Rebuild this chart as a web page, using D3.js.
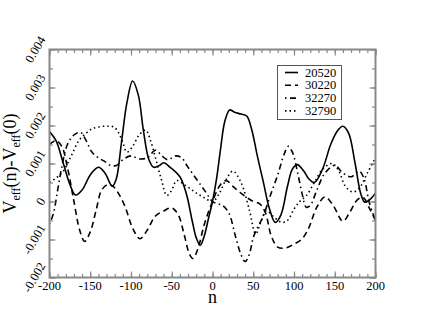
<!DOCTYPE html>
<html lang="en">
<head>
<meta charset="UTF-8">
<title>Veff</title>
<script src="https://d3js.org/d3.v7.min.js"></script>
<style>
  body { margin: 0; background: #fff; }
  svg { font-family: "Liberation Serif", "Times New Roman", serif; }
  .curve { fill: none; stroke: #000; stroke-width: 1.6px; }
  .frame { fill: none; stroke: #888; stroke-width: 2px; }
  .tick line { stroke: #888; stroke-width: 1.2px; }
  .domain { display: none; }
</style>
</head>
<body>
<script>
// values (V in units of 1, n = site index)
const series = ["20520", "30220", "32270", "32790"];

const n20520 = [-200,-192,-183,-175,-168,-160,-150,-140,-132,-123,-118,-112,-105,-98,-91,-85,-78,-72,-65,-60,-52,-40,-32,-25,-20,-15,-10,-5,0,5,10,15,21,27,35,42,48,55,62,70,77,84,92,98,104,112,118,125,135,145,153,160,167,175,182,187,193,200];
const v20520 = [0.00184,0.0016,0.001,0.00045,0.00017,0.0003,0.0007,0.0009,0.00075,0.0004,0.0006,0.0015,0.0026,0.00317,0.0028,0.0019,0.0011,0.0009,0.00095,0.00102,0.0009,0.00065,0.0002,-0.0005,-0.00095,-0.00115,-0.0009,-0.00045,0,0.0006,0.0014,0.0021,0.00241,0.00235,0.0023,0.00225,0.0019,0.0012,0.00055,-0.0002,-0.00055,-0.00035,0.0004,0.00085,0.00097,0.0008,0.0006,0.0005,0.00085,0.0015,0.00185,0.00198,0.0018,0.001,0.0002,-0.00002,0.00005,0.00022];

const n30220 = [-200,-192,-185,-178,-170,-163,-157,-150,-143,-136,-128,-122,-115,-107,-98,-89,-80,-70,-60,-50,-42,-35,-28,-24,-18,-10,0,10,17,25,36,50,58,65,72,80,90,100,110,118,128,138,148,160,168,178,185,193,200];
const v30220 = [0.0015,0.0016,0.00145,0.0009,0,-0.00075,-0.00105,-0.0008,-0.00025,0.0003,0.00045,0.0004,0.0002,-0.00015,-0.0007,-0.00098,-0.00075,-0.00038,-0.00025,-0.00017,-0.00035,-0.00085,-0.0014,-0.0015,-0.00125,-0.0006,0,0.00045,0.00055,0.0004,0.0002,0,-0.00006,-0.0003,-0.0009,-0.0012,-0.00122,-0.00112,-0.00098,-0.0007,-0.00015,0.00012,-0.0001,-0.00052,-0.0003,0.00005,0.0001,-0.0002,-0.0005];

const n32270 = [-200,-195,-190,-185,-178,-170,-162,-155,-148,-140,-132,-125,-118,-110,-100,-90,-80,-70,-62,-55,-45,-38,-30,-20,-10,0,5,12,20,28,35,40,45,50,55,62,70,80,88,93,98,105,110,115,120,128,138,150,160,170,180,186,192,200];
const v32270 = [-0.0006,-0.0003,0.0003,0.0009,0.0015,0.00175,0.00182,0.0016,0.0013,0.00115,0.00105,0.00095,0.00095,0.0011,0.0012,0.00112,0.00115,0.00135,0.0012,0.0011,0.0012,0.00115,0.0009,0.0006,0.0003,0,-0.00005,-0.0001,-0.0003,-0.0009,-0.0014,-0.00158,-0.0014,-0.00095,-0.0007,-0.0004,0.0001,0.0007,0.00125,0.00145,0.0013,0.0007,0.0002,-0.00015,-0.0001,0.0003,0.00075,0.00095,0.00075,0.00065,0.0008,0.0006,0,-0.0005];

const n32790 = [-200,-192,-184,-174,-164,-155,-148,-138,-128,-121,-115,-110,-105,-98,-90,-82,-76,-70,-63,-56,-50,-44,-35,-25,-18,-10,0,8,16,25,35,45,53,60,66,75,85,92,100,107,115,125,135,147,155,163,172,180,190,200];
const v32790 = [0.0005,0.00062,0.00077,0.00117,0.0016,0.0018,0.00191,0.00197,0.00198,0.00196,0.0018,0.00155,0.0013,0.00145,0.00175,0.00188,0.0016,0.00115,0.0006,0.00016,0.0003,0.00055,0.00045,0.0003,0.0002,0.0001,0,0.0002,0.00055,0.0008,0.0005,-0.0002,-0.00085,-0.0005,-0.00025,-0.0004,-0.00055,-0.0005,-0.0002,0,0.00015,0.0005,0.00085,0.001,0.0008,0.0004,0.00025,0.00035,0.00075,0.00115];

const xTicks = [-200, -150, -100, -50, 0, 50, 100, 150, 200];
const yTicks = [-0.002, -0.001, 0, 0.001, 0.002, 0.003, 0.004];
const yTickLabels = ["-0.002", "-0.001", "0", "0.001", "0.002", "0.003", "0.004"];

const W = 423, H = 327;
const pL = 49.5, pR = 375.5, pT = 49.5, pB = 277.5;

const x = d3.scaleLinear().domain([-200, 200]).range([pL, pR]);
const y = d3.scaleLinear().domain([-0.002, 0.004]).range([pB, pT]);

const svg = d3.select("body").append("svg")
  .attr("width", W).attr("height", H);

// curves
const styles = {
  "20520": null,
  "30220": "6,4",
  "32270": "1.5,3.5,6,3.5",
  "32790": "1.5,3"
};
const data = {
  "20520": d3.zip(n20520, v20520),
  "30220": d3.zip(n30220, v30220),
  "32270": d3.zip(n32270, v32270),
  "32790": d3.zip(n32790, v32790)
};
const line = d3.line()
  .x(d => x(d[0]))
  .y(d => y(d[1]))
  .curve(d3.curveCatmullRom.alpha(0.5));

svg.append("defs").append("clipPath").attr("id", "clip")
  .append("rect").attr("x", pL).attr("y", pT)
  .attr("width", pR - pL).attr("height", pB - pT);

svg.append("g").attr("clip-path", "url(#clip)")
  .selectAll("path").data(series).join("path")
  .attr("class", "curve")
  .attr("stroke-dasharray", s => styles[s])
  .attr("d", s => line(data[s]));

// ticks, inward on all sides
const minorX = d3.range(-200, 201, 10);
const minorY = d3.range(-0.002, 0.00401, 0.0005);

function tickAxis(axisFn, scale, vals, size, transform) {
  svg.append("g").attr("transform", transform)
    .call(axisFn(scale).tickValues(vals).tickSize(size).tickFormat(""));
}
tickAxis(d3.axisBottom, x, minorX, -3.5, `translate(0,${pB})`);
tickAxis(d3.axisBottom, x, xTicks, -6, `translate(0,${pB})`);
tickAxis(d3.axisTop, x, minorX, -3.5, `translate(0,${pT})`);
tickAxis(d3.axisTop, x, xTicks, -6, `translate(0,${pT})`);
tickAxis(d3.axisLeft, y, minorY, -3.5, `translate(${pL},0)`);
tickAxis(d3.axisLeft, y, yTicks, -6, `translate(${pL},0)`);
tickAxis(d3.axisRight, y, minorY, -3.5, `translate(${pR},0)`);
tickAxis(d3.axisRight, y, yTicks, -6, `translate(${pR},0)`);

svg.append("rect").attr("class", "frame")
  .attr("x", pL).attr("y", pT)
  .attr("width", pR - pL).attr("height", pB - pT);

// x tick labels
svg.append("g").selectAll("text").data(xTicks).join("text")
  .attr("x", d => x(d))
  .attr("y", pB + 12.5)
  .attr("text-anchor", "middle")
  .attr("font-size", 12.5)
  .text(d => String(d));

// y tick labels, slanted
const ang = 60 * Math.PI / 180;
svg.append("g").selectAll("text").data(yTicks).join("text")
  .attr("font-size", 12.5)
  .attr("text-anchor", "middle")
  .attr("dominant-baseline", "central")
  .text((d, i) => yTickLabels[i])
  .each(function (d) {
    const L = this.getComputedTextLength();
    const bw = L * Math.cos(ang) + 7 * Math.sin(ang);
    d3.select(this).attr("transform",
      `translate(${45.5 - bw / 2},${y(d)}) rotate(-60)`);
  });

// axis titles
svg.append("text")
  .attr("x", x(0)).attr("y", 303)
  .attr("text-anchor", "middle")
  .attr("font-size", 18)
  .text("n");

const yt = svg.append("text")
  .attr("transform", `translate(16,${(pT + pB) / 2}) rotate(-90)`)
  .attr("text-anchor", "middle")
  .attr("font-size", 18);
yt.append("tspan").text("V");
yt.append("tspan").attr("font-size", 12).attr("dy", 4).text("eff");
yt.append("tspan").attr("dy", -4).text("(n)-V");
yt.append("tspan").attr("font-size", 12).attr("dy", 4).text("eff");
yt.append("tspan").attr("dy", -4).text("(0)");

// legend
const lg = svg.append("g");
lg.append("rect")
  .attr("x", 277.5).attr("y", 65.5).attr("width", 64).attr("height", 54)
  .attr("fill", "#fff").attr("stroke", "#555").attr("stroke-width", 1);
series.forEach((s, i) => {
  const ly = 72.5 + i * 12.8;
  lg.append("line")
    .attr("x1", 285).attr("x2", 298).attr("y1", ly).attr("y2", ly)
    .attr("stroke", "#000").attr("stroke-width", 1.6)
    .attr("stroke-dasharray", styles[s]);
  lg.append("text")
    .attr("x", 305).attr("y", ly)
    .attr("dominant-baseline", "central")
    .attr("font-size", 12.5)
    .text(s);
});
</script>
</body>
</html>
